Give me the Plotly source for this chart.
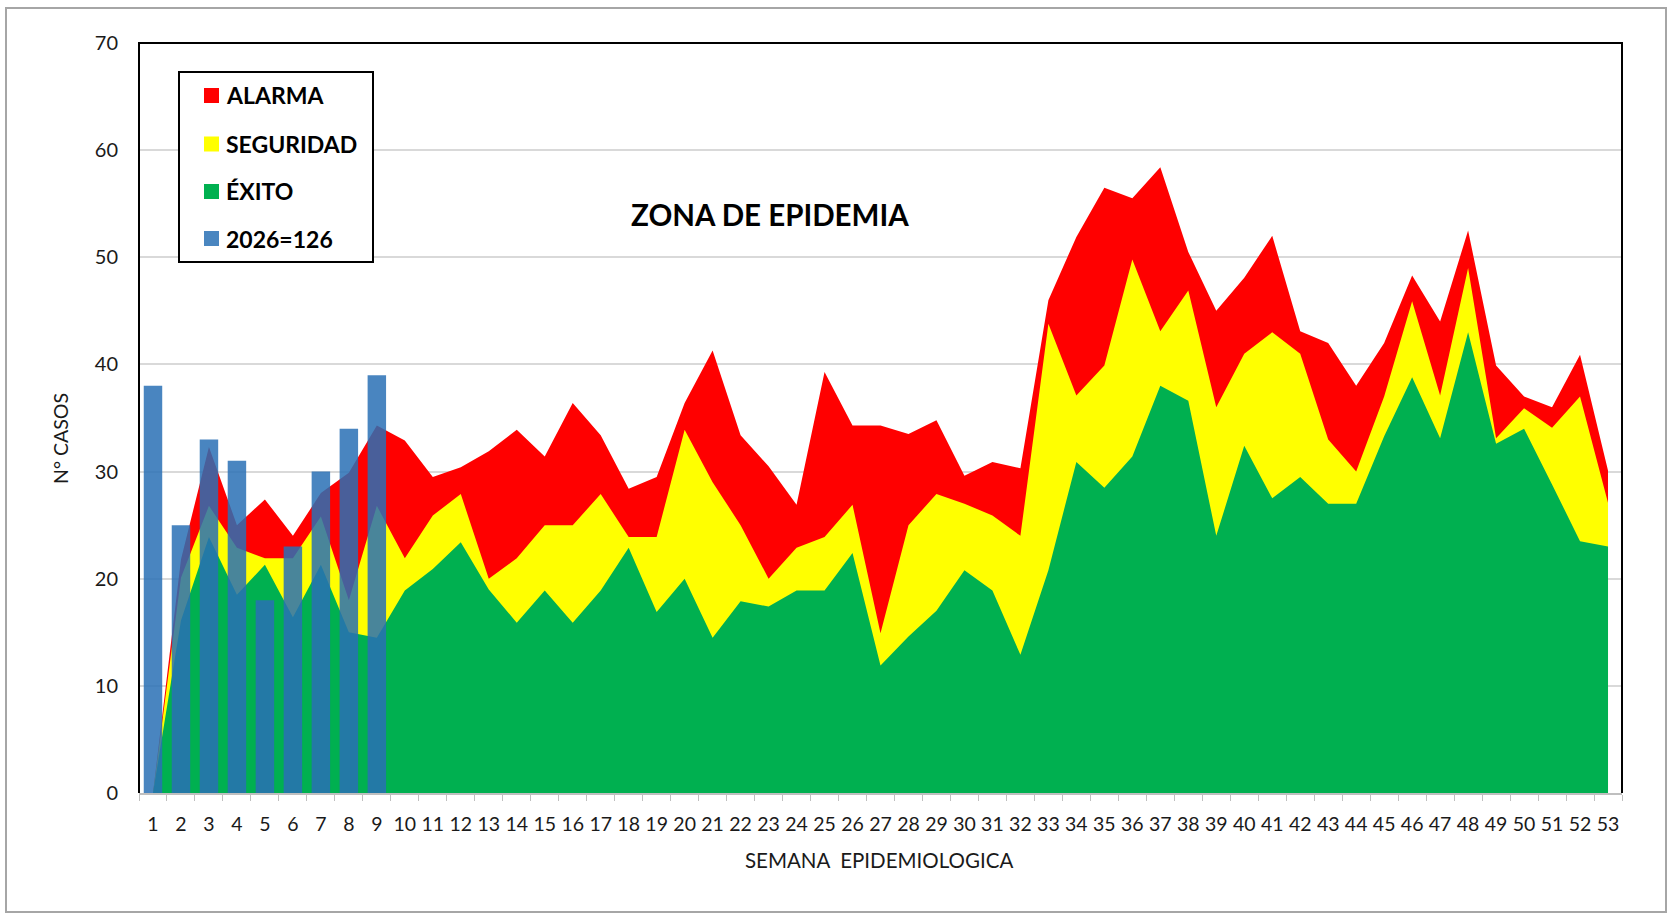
import plotly.graph_objects as go

# ---------------- DATA ----------------
weeks = list(range(1, 54))
week_labels = [str(w) for w in weeks]

alarma = [0, 21.8, 32.3, 25.0, 27.4, 24.0, 28.0, 29.9, 34.3, 32.9,
          29.5, 30.4, 31.9, 33.9, 31.4, 36.4, 33.4, 28.4, 29.5, 36.4,
          41.3, 33.4, 30.5, 26.9, 39.3, 34.3, 34.3, 33.5, 34.8, 29.6,
          30.9, 30.3, 46.0, 51.9, 56.5, 55.5, 58.4, 50.5, 45.0, 48.1,
          52.0, 43.1, 42.0, 38.0, 42.0, 48.3, 44.0, 52.5, 39.9, 37.0,
          36.0, 40.9, 30.1]

seguridad = [0, 20.1, 26.8, 22.9, 21.9, 21.9, 25.8, 18.0, 26.8, 21.9,
             25.9, 27.9, 20.0, 21.9, 25.0, 25.0, 27.9, 23.9, 23.9, 33.9,
             29.0, 25.0, 20.0, 22.9, 23.9, 26.9, 14.9, 25.0, 27.9, 27.0,
             25.9, 24.0, 43.8, 37.1, 39.9, 49.8, 43.1, 46.9, 36.0, 41.0,
             43.0, 41.0, 33.0, 30.0, 37.0, 45.9, 37.1, 49.0, 33.1, 35.9,
             34.1, 37.0, 27.1]

exito = [0, 16.1, 23.9, 18.5, 21.3, 16.4, 21.3, 15.0, 14.5, 18.9,
         20.9, 23.4, 19.0, 15.9, 18.9, 15.9, 18.9, 22.9, 16.9, 20.0,
         14.5, 17.9, 17.4, 18.9, 18.9, 22.4, 11.9, 14.6, 17.0, 20.8,
         18.9, 12.9, 20.8, 30.9, 28.5, 31.4, 38.0, 36.6, 24.0, 32.4,
         27.5, 29.5, 27.0, 27.0, 33.3, 38.8, 33.1, 43.0, 32.6, 34.0,
         28.8, 23.5, 23.0]

weeks_2026 = [1, 2, 3, 4, 5, 6, 7, 8, 9]
casos_2026 = [38, 25, 33, 31, 18, 23, 30, 34, 39]

series_names = ["ALARMA", "SEGURIDAD", "ÉXITO", "2026=126"]
title_text = "ZONA DE EPIDEMIA"
x_title = "SEMANA  EPIDEMIOLOGICA"
y_title = "N° CASOS"

# ---------------- STYLE ----------------
W, H = 1671, 914
PL, PR, PT, PB = 139, 1622, 43, 793   # plot area in pixels
RED, YELLOW, GREEN = "#FF0000", "#FFFF00", "#00B050"
BAR = "rgba(41,112,181,0.85)"
BAR_LEG = "#4A86C0"
FONT = "Lato"
TXT = "#1a1a1a"


def px(x):
    return (x - PL) / (PR - PL)


def py(y):
    return (PB - y) / (PB - PT)


fig = go.Figure()
for vals, col, name in [(alarma, RED, series_names[0]),
                        (seguridad, YELLOW, series_names[1]),
                        (exito, GREEN, series_names[2])]:
    fig.add_trace(go.Scatter(x=weeks, y=vals, mode="lines", fill="tozeroy",
                             fillcolor=col, line=dict(width=0, color=col),
                             name=name, showlegend=False, hoverinfo="x+y"))

# bars on an overlaying axis so they are drawn above the areas
fig.add_trace(go.Bar(x=weeks_2026, y=casos_2026, width=0.66, name=series_names[3],
                     marker=dict(color=BAR, line=dict(width=0)), showlegend=False,
                     xaxis="x2", yaxis="y2"))

shapes = []
shapes.append(dict(type="rect", xref="paper", yref="paper",
                   x0=px(6), x1=px(1666), y0=py(912), y1=py(8),
                   line=dict(color="#A6A6A6", width=2), layer="below"))
shapes.append(dict(type="path", xref="paper", yref="paper",
                   path="M 0 0 L 0 1 L 1 1 L 1 0",
                   line=dict(color="black", width=2), layer="above"))
shapes.append(dict(type="rect", xref="paper", yref="paper",
                   x0=px(179), x1=px(373), y0=py(262), y1=py(72),
                   fillcolor="white", line=dict(color="black", width=2), layer="above"))

annotations = []
leg_colors = [RED, YELLOW, GREEN, BAR_LEG]
leg_y = [95.5, 144, 191.5, 238.5]
for name, col, yc in zip(series_names, leg_colors, leg_y):
    shapes.append(dict(type="rect", xref="paper", yref="paper",
                       x0=px(204), x1=px(219), y0=py(yc + 7.5), y1=py(yc - 7.5),
                       fillcolor=col, line=dict(width=0), layer="above"))
    annotations.append(dict(x=px(224), y=py(yc), xref="paper", yref="paper",
                            text=f"<b>{name}</b>", showarrow=False,
                            xanchor="left", yanchor="middle",
                            font=dict(family=FONT, size=23, color="black")))

annotations.append(dict(x=px(770), y=py(215), xref="paper", yref="paper",
                        text=f"<b>{title_text}</b>", showarrow=False,
                        xanchor="center", yanchor="middle",
                        font=dict(family=FONT, size=29.5, color="black")))
annotations.append(dict(x=px(879), y=py(860), xref="paper", yref="paper",
                        text=x_title, showarrow=False,
                        xanchor="center", yanchor="middle",
                        font=dict(family=FONT, size=20.5, color=TXT)))
annotations.append(dict(x=px(60), y=py(439), xref="paper", yref="paper",
                        text=y_title, showarrow=False, textangle=-90,
                        xanchor="center", yanchor="middle",
                        font=dict(family=FONT, size=19.5, color=TXT)))

fig.update_layout(
    width=W, height=H,
    margin=dict(l=PL, r=W - PR, t=PT, b=H - PB, pad=0),
    paper_bgcolor="white", plot_bgcolor="white",
    showlegend=False,
    shapes=shapes, annotations=annotations,
    font=dict(family=FONT, color=TXT),
    xaxis=dict(range=[0.5, 53.5], tickmode="array",
               tickvals=weeks, ticktext=week_labels,
               ticks="", showgrid=False, zeroline=False,
               showline=True, linecolor="#BFBFBF", linewidth=2,
               tickfont=dict(family=FONT, size=19.5, color=TXT), ticklabelstandoff=13,
               minor=dict(ticks="outside", tick0=0.5, dtick=1, ticklen=6,
                          tickcolor="#BFBFBF", tickwidth=1, showgrid=False)),
    yaxis=dict(range=[0, 70], dtick=10, ticks="", showgrid=True,
               gridcolor="#D9D9D9", gridwidth=2, zeroline=False,
               showline=False,
               tickfont=dict(family=FONT, size=20, color=TXT),
               ticklabelstandoff=20),
    xaxis2=dict(overlaying="x", range=[0.5, 53.5], visible=False),
    yaxis2=dict(overlaying="y", range=[0, 70], visible=False),
)

fig.write_html("out.html", config={"displayModeBar": False},
               post_script="document.body.style.margin='0';")
